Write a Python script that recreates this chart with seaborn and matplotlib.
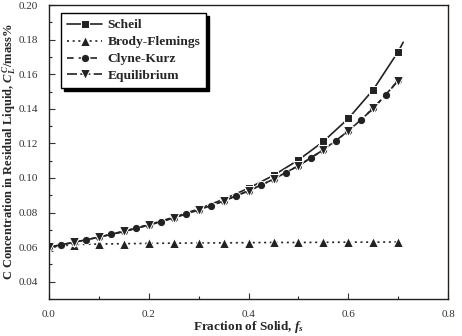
import numpy as np
import pandas as pd
import matplotlib
matplotlib.use("Agg")
import matplotlib.pyplot as plt
import seaborn as sns

# ---- data ----
fs_05 = [0.0, 0.05, 0.10, 0.15, 0.20, 0.25, 0.30, 0.35, 0.40, 0.45, 0.50, 0.55, 0.60, 0.65, 0.70]
fs_025 = [0.0, 0.025, 0.05, 0.075, 0.10, 0.125, 0.15, 0.175, 0.20, 0.225, 0.25, 0.275, 0.30,
          0.325, 0.35, 0.375, 0.40, 0.425, 0.45, 0.475, 0.50, 0.525, 0.55, 0.575, 0.60,
          0.625, 0.65, 0.675, 0.70]

scheil = [0.0600, 0.0628, 0.0658, 0.0692, 0.0730, 0.0773, 0.0821, 0.0877, 0.0941, 0.1015,
          0.1104, 0.1211, 0.1344, 0.1511, 0.1731]
scheil_end_fs = 0.71
scheil_end = 0.1785

brody = [0.0600, 0.0615, 0.0618, 0.0620, 0.0622, 0.0623, 0.0624, 0.0625, 0.0626, 0.0627,
         0.0627, 0.0628, 0.0629, 0.0629, 0.0630]

clyne = [0.0600, 0.0614, 0.0628, 0.0642, 0.0658, 0.0674, 0.0691, 0.0709, 0.0728, 0.0748,
         0.0769, 0.0792, 0.0815, 0.0840, 0.0867, 0.0896, 0.0926, 0.0958, 0.0993, 0.1031,
         0.1071, 0.1116, 0.1163, 0.1215, 0.1273, 0.1336, 0.1404, 0.1479, 0.1565]

equil = [0.0600, 0.0628, 0.0658, 0.0691, 0.0728, 0.0769, 0.0815, 0.0867, 0.0926, 0.0993,
         0.1071, 0.1163, 0.1271, 0.1402, 0.1563]

names = ["Scheil", "Brody-Flemings", "Clyne-Kurz", "Equilibrium"]
xticks = [0.0, 0.2, 0.4, 0.6, 0.8]
xtick_labels = ["0.0", "0.2", "0.4", "0.6", "0.8"]
yticks = [0.04, 0.06, 0.08, 0.10, 0.12, 0.14, 0.16, 0.18, 0.20]
ytick_labels = ["0.04", "0.06", "0.08", "0.10", "0.12", "0.14", "0.16", "0.18", "0.20"]

sns.set_style("ticks")
plt.rcParams['font.family'] = ['Liberation Serif', 'DejaVu Serif']
plt.rcParams['mathtext.fontset'] = 'custom'
plt.rcParams['mathtext.rm'] = 'Liberation Serif:bold'
plt.rcParams['mathtext.it'] = 'Liberation Serif:italic:bold'
plt.rcParams['mathtext.bf'] = 'Liberation Serif:bold'

fig = plt.figure(figsize=(4.62, 3.36), dpi=100)
ax = fig.add_axes([0.106, 0.110, 0.864, 0.875])

df_s = pd.DataFrame({"fs": fs_05 + [scheil_end_fs], "c": scheil + [scheil_end]})
df_b = pd.DataFrame({"fs": fs_05, "c": brody})
df_c = pd.DataFrame({"fs": fs_025, "c": clyne})
df_e = pd.DataFrame({"fs": fs_05, "c": equil})

lw = 1.2
ms = 6
col = "#222222"
sns.lineplot(data=df_s, x="fs", y="c", ax=ax, color=col, lw=lw, marker="s", ms=ms,
             markevery=list(range(len(fs_05))), label=names[0], sort=False, estimator=None)
sns.lineplot(data=df_b, x="fs", y="c", ax=ax, color=col, lw=lw, ls=(0, (1.2, 2.2)),
             marker="^", ms=ms + 0.5, label=names[1], sort=False, estimator=None)
sns.lineplot(data=df_c, x="fs", y="c", ax=ax, color=col, lw=lw, ls=(0, (4, 3)),
             marker="o", ms=ms, label=names[2], sort=False, estimator=None)
sns.lineplot(data=df_e, x="fs", y="c", ax=ax, color=col, lw=lw, ls=(0, (6, 2)),
             marker="v", ms=ms + 0.5, label=names[3], sort=False, estimator=None)

ax.set_xlim(0.0, 0.8)
ax.set_ylim(0.03, 0.20)
ax.set_xticks(xticks)
ax.set_xticks([0.1, 0.3, 0.5, 0.7], minor=True)
ax.set_yticks(yticks)
ax.set_yticks(np.arange(0.03, 0.20, 0.02), minor=True)
ax.set_xticklabels(xtick_labels)
ax.set_yticklabels(ytick_labels)
ax.tick_params(axis="both", which="major", direction="in", length=4, width=0.8,
               labelsize=8, colors="#333333", pad=8)
ax.tick_params(axis="both", which="minor", direction="in", length=2.5, width=0.8)
for s in ax.spines.values():
    s.set_linewidth(1.0)
    s.set_color(col)

ax.set_xlabel("Fraction of Solid, $f_s$", fontsize=9.5, fontweight="bold")
ax.set_ylabel("C Concentration in Residual Liquid, $C_L^C$/mass%", fontsize=9,
              fontweight="bold")
ax.xaxis.set_label_coords(0.5, -0.068)
ax.yaxis.set_label_coords(-0.077, 0.5)

leg = ax.legend(loc="upper left", bbox_to_anchor=(0.03, 0.973), borderaxespad=0,
                frameon=True, fancybox=False, shadow={"color": "black", "alpha": 1},
                handlelength=2.6, numpoints=1, labelspacing=0.33, borderpad=0.45,
                handletextpad=0.4,
                prop={"family": "Liberation Serif", "weight": "bold", "size": 9.7})
leg.get_frame().set_edgecolor("black")
leg.get_frame().set_linewidth(1.0)
leg.get_frame().set_alpha(1)

fig.savefig("out.png", dpi=100)
